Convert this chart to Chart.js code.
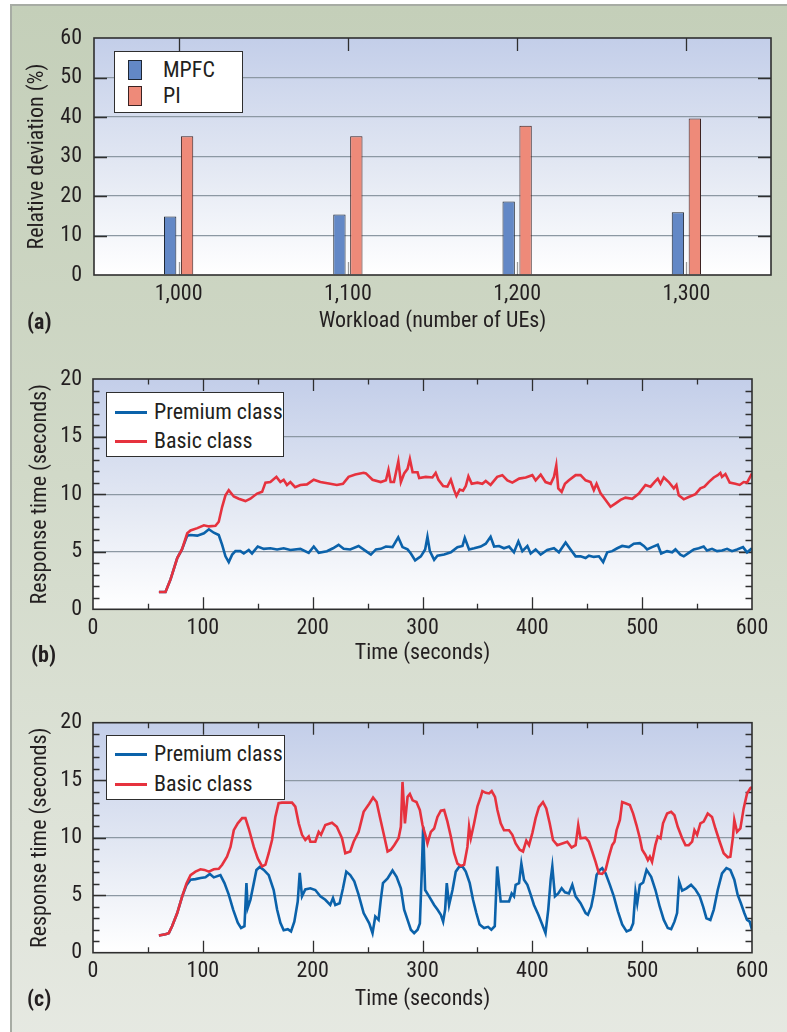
<!DOCTYPE html>
<html>
<head>
<meta charset="utf-8">
<script src="https://cdn.jsdelivr.net/npm/chart.js@4.4.0/dist/chart.umd.min.js"></script>
<style>
  html, body { margin: 0; padding: 0; background: #fff; }
  body { width: 787px; height: 1032px; overflow: hidden; position: relative; color: #231f20; }
  .frame { position: absolute; left: 10px; top: 4px; width: 790px; height: 1040px;
    border-left: 2px solid #a7aca4; border-top: 2px solid #a7aca4;
    background: linear-gradient(to bottom, #c4cfb9 0%, #d1d9c8 45%, #e6e9e2 100%); }
  canvas { position: absolute; left: 0; }
  .legend { position: absolute; background: #fff; border: 1px solid #2e2e2e; box-sizing: border-box; }
  .legend .sw { position: absolute; box-sizing: border-box; }
  .legend .lb { position: absolute; line-height: 22px; white-space: nowrap;
    font-family: Roboto, sans-serif; font-size: 22px; font-stretch: condensed; }
</style>
</head>
<body>
<div class="frame"></div>
<canvas id="chartA" width="787" height="345" style="top:0px"></canvas>
<canvas id="chartB" width="787" height="345" style="top:345px"></canvas>
<canvas id="chartC" width="787" height="342" style="top:690px"></canvas>

<script>
// (a) relative deviation per workload
const barCategories = ['1,000', '1,100', '1,200', '1,300'];
const mpfcDeviation = [14.8, 15.3, 18.6, 15.9];
const piDeviation = [35.1, 35.1, 37.8, 39.6];

// (b) response time, seconds
const bTimePremium = [60, 66, 70.6, 76.7, 81, 85.8, 88.8, 95, 101, 105.5, 110, 114.5, 117.6, 120.6, 123.6, 126.7, 129.7, 134.2, 137.3, 141.8, 144.8, 150, 155.5, 161.5, 167.6, 173.6, 179.7, 188.8, 196.4, 201, 205.5, 213, 218.5, 223.6, 228.2, 234.2, 241.8,
  248.5, 253, 257.6, 262, 266.7, 272.7, 277.9, 281.8, 286.4, 289.4, 293.3, 298.5, 302.4, 304.5, 306.7, 310.6, 313.6, 319.7, 325.8, 331.8, 336.4, 338.5, 342.4, 347, 353, 357.6, 362, 365.2, 369.7, 374.2, 378.8, 383.3, 387.3, 390.9, 395.5, 398.5, 403, 407.6, 413.6, 419.7, 424.2, 430.3, 434.8, 439.4,
  443.9, 448.5, 451.5, 456, 460.6, 464.5, 468.2, 472.7, 477.3, 481.8, 487.9, 492.4, 497.9, 501.5, 504.5, 509, 514.2, 517.3, 522.7, 527.3, 530.3, 534.8, 537.9, 542.4, 547, 551.5, 556, 559, 563.6, 568.2, 572.7, 577.3, 581.8, 586.4, 591.8, 595.5, 600];
const bPremium = [1.5, 1.5, 2.6, 4.45, 5.2, 6.4, 6.45, 6.4, 6.6, 6.95, 6.65, 6.45, 5.6, 4.6, 4.1, 4.75, 5.05, 5.05, 4.85, 5.15, 4.85, 5.45, 5.25, 5.3, 5.2, 5.3, 5.15, 5.25, 4.9, 5.45, 4.9, 5.05, 5.3, 5.6, 5.25, 5.2, 5.5,
  5.05, 4.75, 5.2, 5.25, 5.45, 5.4, 6.25, 5.4, 5.2, 4.85, 4.25, 4.6, 5.2, 6.3, 5.05, 4.3, 4.65, 4.75, 4.95, 5.4, 5.5, 6.2, 5.2, 5.3, 5.45, 5.7, 6.3, 5.45, 5.5, 5.3, 5.45, 4.95, 5.9, 5.05, 5.5, 4.85, 5.2, 4.75, 5.15, 5.3, 4.95, 5.8, 5.2, 4.6,
  4.6, 4.45, 4.65, 4.55, 4.6, 4.1, 4.95, 5.05, 5.3, 5.5, 5.4, 5.7, 5.75, 5.5, 5.2, 5.4, 5.6, 4.85, 5.05, 4.95, 5.2, 4.75, 4.6, 4.9, 5.2, 5.3, 5.45, 5.1, 5.25, 5.05, 5.1, 5.25, 5.05, 5.2, 5.4, 4.95, 5.3];
const bTimeBasic = [60, 66, 70.6, 76.7, 81, 85.8, 88.8, 95, 101, 105.5, 111.5, 114.5, 117.6, 120.6, 123.6, 128.2, 132.7, 138.8, 143.3, 149.4, 154, 157, 161.5, 167, 170.6, 173.6, 176.6, 179.7, 184, 188.8, 194.8, 201, 207, 216, 222, 227.6, 232.7, 238.8, 246.4,
  248.5, 254.5, 262, 266.7, 269, 271, 274, 278, 280.3, 283.3, 286.4, 288.5, 291, 295.5, 297, 303, 309, 312, 314.5, 318.8, 322.7, 325.8, 328.8, 330.9, 333.9, 336.9, 339.4, 341.8, 344.8, 350, 354.5, 357.6, 362, 368, 372.7, 377.3, 381.8, 388, 394, 400, 403, 407.6, 412, 416.7, 419.7, 421.8, 423.6, 426.7, 429.7, 433.3, 439.4,
  443.9, 448.5, 453, 456, 458.5, 462, 466.7, 471.2, 475.8, 480.3, 484.8, 491, 497, 503, 507.6, 511.2, 514.2, 516.7, 519.7, 524.2, 528.8, 531.2, 533.3, 537.9, 542.4, 548.5, 553, 556.7, 560.6, 565.2, 568.8, 571.2, 572.7, 575.8, 579.7, 584.8, 588.8, 592.4, 595.5, 600];
const bBasic = [1.5, 1.5, 2.6, 4.45, 5.2, 6.6, 6.85, 7.05, 7.3, 7.2, 7.25, 7.6, 8.9, 9.9, 10.35, 9.8, 9.6, 9.4, 9.6, 10.05, 10.2, 11.0, 11.05, 11.5, 11.05, 11.25, 10.8, 11.05, 10.6, 10.8, 10.85, 11.25, 11.05, 10.9, 10.8, 10.9, 11.5, 11.7, 11.85,
  11.8, 11.25, 11.05, 11.2, 12.1, 11.05, 11.05, 12.85, 11.05, 11.8, 12.2, 13.05, 11.9, 11.9, 11.4, 11.5, 11.45, 11.85, 11.25, 10.7, 10.65, 11.25, 10.35, 9.85, 10.4, 10.3, 10.7, 11.55, 10.9, 11.0, 10.9, 11.15, 10.8, 11.5, 11.65, 11.2, 11.0, 11.35, 11.45, 11.65, 11.2, 11.7, 11.05, 10.9, 11.5, 12.5, 10.5, 10.2, 10.9, 11.2, 11.65,
  11.65, 11.2, 11.05, 10.35, 10.9, 10.1, 9.5, 8.9, 9.2, 9.5, 9.7, 9.6, 10.05, 10.8, 10.65, 11.05, 11.35, 10.9, 11.45, 11.05, 10.5, 10.8, 9.9, 9.55, 9.75, 10.0, 10.5, 10.65, 11.05, 11.45, 11.65, 11.85, 11.5, 11.75, 11.0, 10.9, 10.8, 11.05, 11.0, 11.8];

// (c) response time, seconds
const cTimePremium = [60, 66, 69, 72, 76.7, 81.2, 85.2, 88.8, 93.3, 97.9, 102.4, 106.4, 110, 116, 119.7, 123.6, 127.6, 131.8, 134.8, 137.9, 139.7, 140.9, 143.3, 146.4, 148.8, 151.8, 155.5, 160, 164.5, 167.6, 170.6, 173.6, 177.3, 180.3, 183.3, 186.4, 188.2, 190.3, 193.3, 197.9, 202.4, 207, 211.5, 216, 218.5, 220.6, 224.5, 227.6, 230.6, 234.2, 237.9, 241.8, 246.4,
  251.5, 254.5, 257, 260, 262, 264, 268.2, 272.7, 276.4, 280.3, 283.3, 286.4, 289.4, 292.4, 295.5, 297.6, 299.4, 300.6, 302.4, 306, 310.6, 313.6, 316.7, 318.8, 320.6, 322.1, 324.2, 327.3, 330.3, 333.3, 336.4, 339.4, 343, 346, 349, 352, 356, 359.7, 362.7, 365.8, 368, 371.2, 375.8, 378.8, 381.2, 383.3, 384.8, 387.9, 390, 392.4, 395.5, 398.5, 401.5, 405.5, 409, 412, 414.5, 416.7, 418.2, 420.6, 423.6, 426.7, 429.7, 433.3, 436.4, 439.4,
  443.9, 448.5, 450.6, 453.6, 456, 458.5, 461.5, 463.6, 466.7, 470.6, 474.2, 477.9, 481.8, 485.8, 489.4, 491.8, 493.9, 495.5, 497.9, 500.9, 504, 508.2, 512.1, 516, 519.7, 523.3, 526.4, 529.4, 531.8, 533.6, 536.4, 540.3, 544.5, 548.5, 552.4, 555.5, 558.5, 562.1, 565.2, 568.8, 572.7, 576.7, 580.3, 583.9, 586.9, 589.9, 593, 595.5, 597.9, 600];
const cPremium = [1.5, 1.6, 1.7, 2.3, 3.45, 4.9, 5.9, 6.35, 6.4, 6.5, 6.55, 6.85, 6.55, 6.75, 6.05, 5.05, 3.75, 2.6, 2.15, 2.3, 6.05, 3.9, 4.6, 6.05, 7.2, 7.45, 7.2, 6.75, 5.45, 3.75, 2.6, 1.95, 2.05, 1.85, 2.7, 4.45, 6.95, 4.9, 5.5, 5.6, 5.45, 4.9, 4.6, 4.15, 4.75, 4.15, 4.3, 5.6, 7.05, 6.75, 6.2, 5.05, 3.45,
  2.55, 1.7, 3.15, 2.85, 4.6, 6.05, 6.45, 7.15, 6.6, 5.6, 3.75, 2.85, 2.0, 1.7, 2.0, 2.55, 7.2, 10.95, 5.45, 4.9, 4.15, 3.75, 3.3, 2.7, 3.75, 6.05, 4.15, 5.45, 7.05, 7.45, 7.5, 7.05, 6.05, 4.6, 3.45, 2.45, 2.15, 2.25, 2.0, 2.3, 7.5, 4.45, 4.45, 4.45, 5.15, 4.9, 5.9, 6.05, 7.75, 6.35, 5.9, 5.05, 4.15, 3.3, 2.45, 1.7, 3.75, 6.35, 7.5, 4.9, 5.15, 5.6, 5.25, 5.15, 5.9, 4.9,
  4.3, 3.45, 3.3, 4.0, 5.15, 6.75, 7.2, 7.35, 6.9, 5.9, 4.9, 3.6, 2.45, 1.85, 2.0, 2.55, 5.3, 4.3, 5.9, 6.1, 7.2, 6.6, 5.45, 4.0, 2.85, 2.15, 2.05, 2.7, 3.45, 6.2, 5.4, 5.6, 5.9, 5.5, 4.9, 4.0, 3.0, 2.85, 3.75, 5.45, 6.9, 7.35, 7.2, 6.35, 5.05, 4.3, 3.45, 2.85, 2.7, 2.0];
const cTimeBasic = [60, 66, 69, 72, 76.7, 81.2, 85.2, 88.8, 93.3, 97.9, 101.5, 105.5, 110, 114.5, 117.6, 122, 125.2, 128.2, 131.8, 135.8, 138.8, 141.8, 146.4, 150, 154, 157, 160, 163, 166, 169, 172, 176.7, 181.2, 184.2, 187.3, 190.3, 193.3, 196.4, 197.9, 202.4, 205.5, 207.6, 211.5, 217.6, 222, 226.7, 229.7, 234.2, 237.3, 241.8, 246.4,
  251.5, 255, 258.2, 261.2, 265.2, 268.2, 271.2, 274.2, 278.2, 280.3, 281.8, 284, 286.4, 288.5, 291, 294.5, 297.6, 300, 303, 304.5, 307.6, 310.6, 313.6, 316.7, 319.7, 322.7, 325.8, 328.8, 331.8, 334.8, 337.9, 340.9, 342.4, 344, 347, 350, 353, 354.5, 357.6, 360.6, 363, 366, 368.2, 371.2, 374.2, 378.8, 381.8, 384.8, 388.5, 391.5, 394.5, 397, 400, 403, 406, 409.7, 412.7, 415.8, 418.8, 422.7, 427.3, 431.8, 435.8, 439.4, 441.8,
  443.9, 448.5, 451.5, 454.5, 457.6, 460.6, 463.6, 466.7, 469.7, 472.7, 474.8, 476.7, 479.7, 481.8, 484.8, 488.8, 491.8, 494.8, 497.9, 500, 503, 505.2, 507, 509, 512, 514.2, 516.7, 519, 522.7, 526.4, 529.4, 532.4, 536.4, 539.4, 542.4, 545.5, 547.6, 550, 553, 556, 559.7, 563.6, 566.7, 570.6, 574.2, 577.9, 580.3, 582.7, 583.9, 586.4, 589.4, 592.4, 595.5, 598.5, 600];
const cBasic = [1.5, 1.6, 1.7, 2.3, 3.45, 4.9, 6.05, 6.75, 7.05, 7.25, 7.2, 7.05, 7.25, 7.3, 7.65, 8.35, 9.2, 10.65, 11.25, 11.7, 11.7, 10.8, 9.2, 8.2, 7.5, 7.65, 8.65, 9.8, 11.8, 13.0, 13.05, 13.05, 13.05, 12.7, 11.25, 10.25, 9.8, 10.1, 9.65, 9.65, 10.5, 10.25, 11.1, 11.3, 10.95, 9.95, 8.65, 8.8, 9.65, 10.5, 12.25,
  12.95, 13.5, 13.1, 11.8, 10.1, 8.8, 8.95, 9.35, 9.95, 10.95, 14.85, 11.25, 13.55, 13.8, 13.25, 13.1, 12.4, 11.1, 10.1, 9.5, 10.5, 10.8, 11.8, 12.35, 12.4, 11.4, 10.1, 8.65, 7.75, 7.55, 7.65, 9.2, 10.95, 9.95, 11.25, 12.7, 13.55, 14.05, 13.9, 13.85, 14.05, 13.55, 12.4, 11.25, 10.65, 10.65, 10.25, 9.5, 8.95, 8.8, 9.75, 9.35, 10.4, 11.7, 12.65, 13.1, 12.55, 11.25, 9.8, 9.35, 9.5, 9.65, 9.15, 9.35, 11.1,
  9.95, 10.0, 9.65, 8.8, 7.9, 6.9, 6.85, 7.2, 8.35, 9.35, 9.65, 10.65, 11.55, 13.1, 13.0, 12.85, 12.1, 11.1, 9.95, 8.95, 8.5, 8.05, 8.35, 7.9, 9.35, 10.1, 9.95, 11.25, 12.1, 12.25, 11.95, 10.95, 9.95, 9.35, 9.35, 9.65, 10.65, 10.25, 11.25, 11.4, 12.1, 11.8, 10.8, 9.65, 8.65, 8.3, 8.35, 10.1, 11.55, 10.5, 10.8, 12.55, 13.85, 14.3, 14.4];

// condensed Roboto: 'condensed' goes into the canvas font string as font-stretch
const FONT = { family: 'Roboto, sans-serif', weight: 'condensed', size: 22 };
Chart.defaults.font.family = FONT.family;
Chart.defaults.font.size = FONT.size;
Chart.defaults.font.weight = FONT.weight;
Chart.defaults.color = '#231f20';

const INK = '#2f2f2f';
const GRID = '#8c98a3';

// gradient panel, inner tick marks, frame and panel letter
const plotDecor = {
    id: 'plotDecor',
    beforeDraw(chart) {
        const {ctx, chartArea: a} = chart;
        const g = ctx.createLinearGradient(0, a.top, 0, a.bottom);
        g.addColorStop(0, '#c3cee9');
        g.addColorStop(0.55, '#e3e8f3');
        g.addColorStop(1, '#ffffff');
        ctx.save();
        ctx.fillStyle = g;
        ctx.fillRect(a.left, a.top, a.right - a.left, a.bottom - a.top);
        ctx.restore();
    },
    beforeDatasetsDraw(chart, args, opts) {
        const {ctx, chartArea: a, scales: {x, y}} = chart;
        ctx.save();
        ctx.lineWidth = 1.3;
        ctx.strokeStyle = INK;
        ctx.beginPath();
        y.ticks.forEach(t => {
            if (t.value <= y.min || t.value >= y.max) return;
            const py = Math.round(y.getPixelForValue(t.value)) + 0.5;
            const len = t.value % opts.yMajor === 0 ? 13 : 6.5;
            ctx.moveTo(a.left, py); ctx.lineTo(a.left + len, py);
            ctx.moveTo(a.right, py); ctx.lineTo(a.right - len, py);
        });
        if (opts.category) {
            x.ticks.forEach((t, i) => {
                const px = Math.round(x.getPixelForValue(i)) + 0.5;
                ctx.moveTo(px, a.top); ctx.lineTo(px, a.top + 13);
            });
        } else {
            x.ticks.forEach(t => {
                if (t.value <= x.min || t.value >= x.max) return;
                const px = Math.round(x.getPixelForValue(t.value)) + 0.5;
                const len = t.value % opts.xMajor === 0 ? 12 : 5.5;
                ctx.moveTo(px, a.top); ctx.lineTo(px, a.top + len);
                ctx.moveTo(px, a.bottom); ctx.lineTo(px, a.bottom - len);
            });
        }
        ctx.stroke();
        if (opts.category) {
            ctx.strokeStyle = '#9a9a9a';
            ctx.beginPath();
            x.ticks.forEach((t, i) => {
                const px = Math.round(x.getPixelForValue(i)) + 0.5;
                ctx.moveTo(px, a.bottom); ctx.lineTo(px, a.bottom - 13);
            });
            ctx.stroke();
        }
        ctx.restore();
    },
    afterDatasetsDraw(chart, args, opts) {
        const {ctx, chartArea: a} = chart;
        ctx.save();
        ctx.strokeStyle = INK;
        ctx.lineWidth = 1.6;
        ctx.strokeRect(a.left, a.top, a.right - a.left, a.bottom - a.top);
        ctx.fillStyle = '#231f20';
        ctx.font = `bold condensed ${FONT.size}px ${FONT.family}`;
        ctx.textBaseline = 'middle';
        ctx.fillText(opts.panel.text, opts.panel.x, opts.panel.y);
        ctx.restore();
    }
};

function gridColor(major, lo, hi) {
    return c => (c.tick && c.tick.value % major === 0 && c.tick.value > lo && c.tick.value < hi) ? GRID : 'transparent';
}

// legend box drawn as HTML from the chart's datasets
function buildLegend(chart, box) {
    const el = document.createElement('div');
    el.className = 'legend';
    el.style.left = box.left + 'px';
    el.style.top = box.top + 'px';
    el.style.width = box.width + 'px';
    el.style.height = box.height + 'px';
    chart.data.datasets.forEach((ds, i) => {
        const sw = document.createElement('div');
        sw.className = 'sw';
        const rowY = box.rows[i];
        if (box.kind === 'bar') {
            Object.assign(sw.style, { left: box.swX + 'px', top: (rowY - 10) + 'px', width: '14px', height: '20px',
                background: ds.backgroundColor, border: '1px solid ' + ds.borderColor });
        } else {
            Object.assign(sw.style, { left: box.swX + 'px', top: (rowY - 1.5) + 'px', width: '32px', height: '3px',
                background: ds.borderColor });
        }
        const lb = document.createElement('div');
        lb.className = 'lb';
        lb.textContent = ds.label;
        lb.style.left = box.textX + 'px';
        lb.style.top = (rowY - 11) + 'px';
        el.appendChild(sw);
        el.appendChild(lb);
    });
    document.body.appendChild(el);
}

const toPoints = (ts, vs) => ts.map((t, i) => ({x: t, y: vs[i]}));

// ---- (a)
const chartA = new Chart(document.getElementById('chartA'), {
    type: 'bar',
    data: {
        labels: barCategories,
        datasets: [
            { label: 'MPFC', data: mpfcDeviation, backgroundColor: '#6388c6', borderColor: '#1f2733', borderWidth: 1 },
            { label: 'PI', data: piDeviation, backgroundColor: '#ee8a79', borderColor: '#3b2222', borderWidth: 1 }
        ]
    },
    options: {
        responsive: false, animation: false,
        categoryPercentage: 0.2, barPercentage: 0.73,
        layout: { padding: { left: 10, right: 16, top: 38, bottom: 8 } },
        plugins: {
            legend: { display: false }, tooltip: { enabled: false },
            plotDecor: { category: true, yMajor: 10, panel: { text: '(a)', x: 27, y: 323 } }
        },
        scales: {
            x: {
                grid: { display: false, drawTicks: false }, border: { display: false },
                ticks: { padding: 6 },
                title: { display: true, text: 'Workload (number of UEs)', padding: { top: 0, bottom: 2 } },
                afterFit: s => { s.height = 62; }
            },
            y: {
                min: 0, max: 60,
                grid: { color: gridColor(10, 0, 60), lineWidth: 1.2, drawTicks: false }, border: { display: false },
                ticks: { stepSize: 5, padding: 12, callback: v => v % 10 === 0 ? v : '' },
                title: { display: true, text: 'Relative deviation (%)', padding: { top: 14, bottom: 0 } },
                afterFit: s => { s.width = 84; }
            }
        }
    },
    plugins: [plotDecor]
});
buildLegend(chartA, { kind: 'bar', left: 114, top: 51, width: 129, height: 62, swX: 13, textX: 48, rows: [18, 44] });

// ---- (b) and (c)
function lineChart(id, premiumPts, basicPts, pad, tickPad, titlePad, panel) {
    return new Chart(document.getElementById(id), {
        type: 'line',
        data: {
            datasets: [
                { label: 'Premium class', data: premiumPts, borderColor: '#0b62aa', borderWidth: 2.6, pointRadius: 0, order: 1 },
                { label: 'Basic class', data: basicPts, borderColor: '#e6323e', borderWidth: 2.6, pointRadius: 0, order: 0 }
            ]
        },
        options: {
            responsive: false, animation: false,
            layout: { padding: pad },
            plugins: {
                legend: { display: false }, tooltip: { enabled: false },
                plotDecor: { category: false, yMajor: 5, xMajor: 100, panel: panel }
            },
            scales: {
                x: {
                    type: 'linear', min: 0, max: 600,
                    grid: { display: false, drawTicks: false }, border: { display: false },
                    ticks: { stepSize: 50, autoSkip: false, padding: tickPad, maxRotation: 0,
                        callback: v => v % 100 === 0 ? v : '' },
                    title: { display: true, text: 'Time (seconds)', padding: { top: 0, bottom: titlePad } },
                    afterFit: s => { s.height = 62; }
                },
                y: {
                    min: 0, max: 20,
                    grid: { color: gridColor(5, 0, 20), lineWidth: 1.2, drawTicks: false }, border: { display: false },
                    ticks: { stepSize: 1, autoSkip: false, padding: 11, callback: v => v % 5 === 0 ? v : '' },
                    title: { display: true, text: 'Response time (seconds)', padding: { top: 17, bottom: 0 } },
                    afterFit: s => { s.width = 83; }
                }
            }
        },
        plugins: [plotDecor]
    });
}

const chartB = lineChart('chartB', toPoints(bTimePremium, bPremium), toPoints(bTimeBasic, bBasic),
    { left: 10, right: 35, top: 34, bottom: 18.7 }, 6, 5, { text: '(b)', x: 31, y: 311 });
buildLegend(chartB, { kind: 'line', left: 106, top: 392, width: 178, height: 65, swX: 8, textX: 47, rows: [19, 48] });

const chartC = lineChart('chartC', toPoints(cTimePremium, cPremium), toPoints(cTimeBasic, cBasic),
    { left: 10, right: 35, top: 32.7, bottom: 17.3 }, 6, 2.5, { text: '(c)', x: 27, y: 310 });
buildLegend(chartC, { kind: 'line', left: 106, top: 735, width: 179, height: 65, swX: 8, textX: 47, rows: [18, 48] });
</script>
</body>
</html>
